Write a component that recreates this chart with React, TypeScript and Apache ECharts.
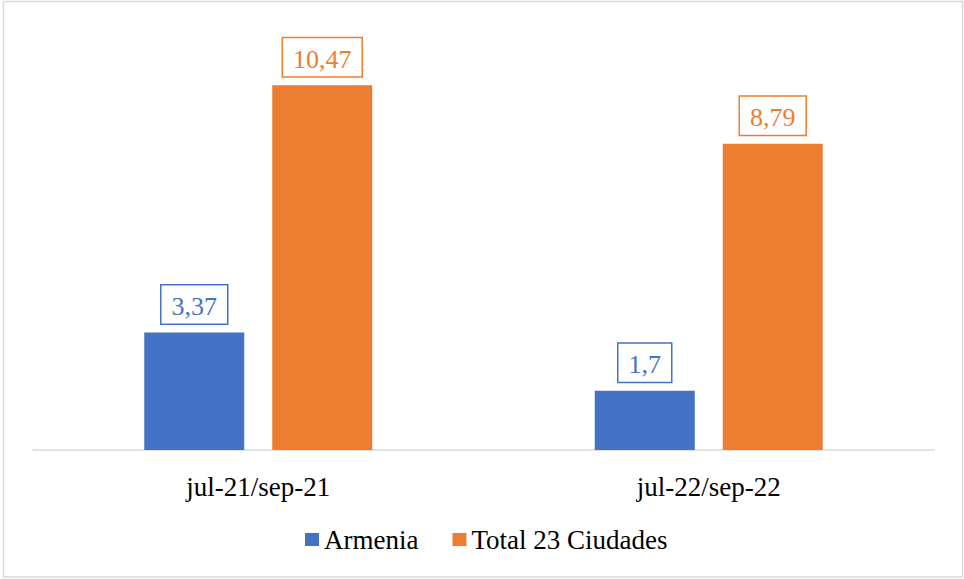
import React, { useEffect, useRef } from "react";
import * as echarts from "echarts";

const categories = ["jul-21/sep-21", "jul-22/sep-22"];
const armenia = [3.37, 1.7];
const total23 = [10.47, 8.79];
const seriesNames = ["Armenia", "Total 23 Ciudades"];
const colors = ["#4472C4", "#ED7D31"];

const FONT = "Liberation Serif";

function fmt(v: number) {
  return String(v).replace(".", ",");
}

export default function App() {
  const ref = useRef<HTMLDivElement>(null);
  useEffect(() => {
    if (!ref.current) return;
    const chart = echarts.init(ref.current, undefined, { renderer: "svg" });
    const mkLabel = (c: string) => ({
      show: true,
      position: "top",
      distance: 9,
      formatter: (p: any) => fmt(p.value),
      fontFamily: FONT,
      fontSize: 26,
      color: c,
      backgroundColor: "#fff",
      borderColor: c,
      borderWidth: 1.5,
      padding: [8, 10, 4, 10],
    });
    chart.setOption({
      animation: false,
      backgroundColor: "#fff",
      textStyle: { fontFamily: FONT },
      graphic: [
        {
          type: "rect",
          shape: { x: 3.5, y: 1.5, width: 959, height: 575.5 },
          style: { fill: "none", stroke: "#d9d9d9", lineWidth: 1.5 },
          silent: true,
        },
      ],
      grid: { left: 33, right: 30, top: 32, bottom: 129, containLabel: false },
      xAxis: {
        type: "category",
        data: categories,
        axisLine: { show: true, lineStyle: { color: "#d9d9d9", width: 1.5 } },
        axisTick: { show: false },
        axisLabel: { fontFamily: FONT, fontSize: 27, color: "#000", margin: 23 },
      },
      yAxis: {
        type: "value",
        min: 0,
        max: 12,
        show: false,
        splitLine: { show: false },
      },
      legend: {
        data: seriesNames,
        left: 300,
        top: 521,
        itemWidth: 14,
        itemHeight: 13,
        itemGap: 34,
        icon: "rect",
        textStyle: { fontFamily: FONT, fontSize: 27, color: "#000" },
      },
      series: [
        {
          name: seriesNames[0],
          type: "bar",
          data: armenia,
          barWidth: 100,
          barGap: "28%",
          itemStyle: { color: colors[0] },
          label: mkLabel(colors[0]),
        },
        {
          name: seriesNames[1],
          type: "bar",
          data: total23,
          barWidth: 100,
          barGap: "28%",
          itemStyle: { color: colors[1] },
          label: mkLabel(colors[1]),
        },
      ],
    });
    return () => chart.dispose();
  }, []);
  return (
    <div
      ref={ref}
      style={{ position: "fixed", left: 0, top: 0, width: 964, height: 579 }}
    />
  );
}
